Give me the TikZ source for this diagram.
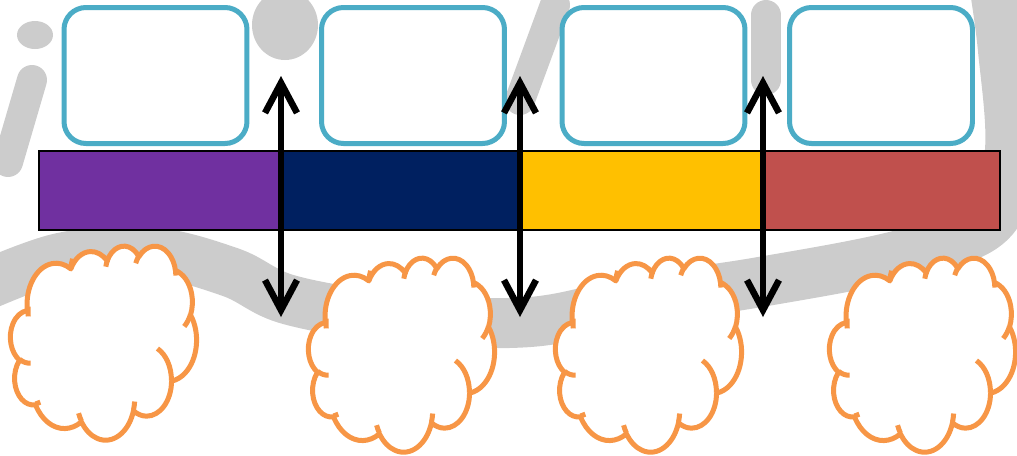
\documentclass[tikz,border=0pt]{standalone}
\usetikzlibrary{arrows.meta,positioning}
\definecolor{boxblue}{HTML}{4BACC6}
\definecolor{cloudorange}{HTML}{F79646}
\definecolor{barpurple}{HTML}{7030A0}
\definecolor{barnavy}{HTML}{002060}
\definecolor{bargold}{HTML}{FFC000}
\definecolor{barred}{HTML}{C0504D}
\definecolor{swirlgray}{HTML}{CCCCCC}
\newcommand{\cloudarc}[4]{arc[x radius=#1,y radius=#2,start angle={atan2(#1*sin(#3),#2*cos(#3))},delta angle={(atan2(#1*sin(#3+#4),#2*cos(#3+#4))-atan2(#1*sin(#3),#2*cos(#3)))+360*round((#4-atan2(#1*sin(#3+#4),#2*cos(#3+#4))+atan2(#1*sin(#3),#2*cos(#3)))/360)}]}
\newcommand{\officecloud}[2]{%
  \begin{scope}[shift={(#1,#2)},x=0.04306mm,y=-0.04491mm]
    \filldraw[cloudshape] (39.00,143.70) \cloudarc{67.53}{91.90}{-190.4875}{123.7805}
      \cloudarc{53.33}{72.67}{-144.1024}{89.9452}
      \cloudarc{43.65}{59.45}{-145.8079}{99.7230}
      \cloudarc{48.57}{65.95}{-130.9861}{117.2417}
      \cloudarc{53.33}{72.73}{-78.7089}{109.0269}
      \cloudarc{67.75}{92.20}{-46.2673}{130.2690}
      \cloudarc{57.85}{78.67}{0.6250}{114.0333}
      \cloudarc{67.52}{92.15}{22.4516}{115.1726}
      \cloudarc{77.20}{105.43}{66.2426}{75.7110}
      \cloudarc{43.60}{59.18}{-274.9421}{146.7356}
      \cloudarc{43.45}{59.45}{-246.8285}{152.5189} -- cycle;
    \draw[cloudline] (46.93,261.77) \cloudarc{43.45}{59.45}{86.7420}{26.4295}
      (69.28,348.99) \cloudarc{43.60}{59.18}{73.6105}{11.4475}
      (164.78,390.90) \cloudarc{67.52}{92.15}{137.6242}{14.0811}
      (288.27,347.51) \cloudarc{67.52}{92.15}{6.4533}{15.9984}
      (341.29,229.54) \cloudarc{57.85}{78.67}{-70.2924}{70.9174}
      (417.98,153.54) \cloudarc{53.33}{72.73}{30.3180}{27.7515}
      (383.24,54.26) \cloudarc{48.57}{65.95}{-13.7443}{14.8589}
      (290.78,39.52) \cloudarc{48.57}{65.95}{-149.1815}{18.1954}
      (221.41,47.20) \cloudarc{43.65}{59.45}{-163.4943}{18.0996}
      (140.00,51.92) \cloudarc{67.53}{91.90}{-170.3199}{18.6368}
      (41.27,157.89) \cloudarc{67.53}{91.90}{-190.4875}{18.5762};
  \end{scope}}

\begin{document}
\begin{tikzpicture}[x=0.1mm,y=-0.1mm,
    topbox/.style={draw=boxblue,line width=0.5mm,fill=white,rounded corners=2.2mm,
        minimum width=18.3mm,minimum height=13.6mm},
    seg/.style={minimum width=24.025mm,minimum height=7.9mm,inner sep=0pt,outer sep=0pt},
    cloudshape/.style={draw=cloudorange,fill=white,line width=0.5mm,line join=round},
    cloudline/.style={draw=cloudorange,line width=0.5mm},
    dblarrow/.style={line width=0.65mm,
        {Straight Barb[length=3mm,width=3.2mm]}-{Straight Barb[length=3mm,width=3.2mm]}},
    swirl/.style={draw=swirlgray,line width=5mm,line cap=round,line join=round}]
    \useasboundingbox (0,0) rectangle (1017,455);
    \clip (0,0) rectangle (1017,455);

    \draw[swirl] plot[smooth,tension=0.6] coordinates {(-30,292) (60,258) (150,252)
        (230,272) (290,300) (400,318) (530,322) (640,300) (760,282)
        (900,255) (990,222) (1010,150) (1003,50) (995,-10)};
    \draw[swirl,line width=3mm] (32,80) -- (8,162);
    \fill[swirlgray] (285,25) ellipse [x radius=33,y radius=35];
    \fill[swirlgray] (35,35) ellipse [x radius=18,y radius=14];
    \draw[swirl,line width=3mm] (520,100) -- (555,5);
    \draw[swirl,line width=3mm] (766,15) -- (766,80);

    \foreach \x [count=\i] in {155.5,413,653.5,881}
        \node[topbox] (box\i) at (\x,75.5) {};

    \node[seg,fill=barpurple,anchor=north west] (seg1) at (39,151) {};
    \node[seg,fill=barnavy,right=0pt of seg1] (seg2) {};
    \node[seg,fill=bargold,right=0pt of seg2] (seg3) {};
    \node[seg,fill=barred,right=0pt of seg3] (seg4) {};
    \draw[line width=0.15mm] (seg1.north west) rectangle (seg4.south east);

    \foreach \cx/\cy in {10.5/245.5,308.5/257.5,555.5/257.5,829.5/257.5}
        \officecloud{\cx}{\cy};

    \foreach \x [count=\i] in {281,520,763} {
        \coordinate (up\i) at (\x,76);
        \coordinate (down\i) at (\x,317);
        \draw[dblarrow] (down\i) -- (up\i);
    }
\end{tikzpicture}
\end{document}
